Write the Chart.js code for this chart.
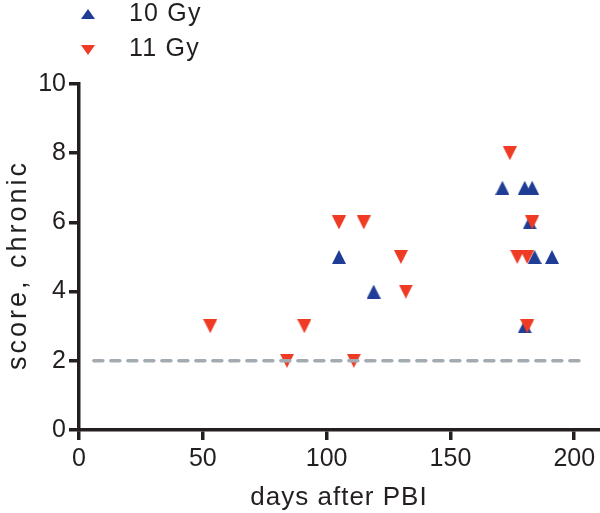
<!DOCTYPE html>
<html>
<head>
<meta charset="utf-8">
<script src="https://cdn.jsdelivr.net/npm/chart.js@4"></script>
<style>
  html, body { margin: 0; padding: 0; background: #fff; }
  #wrap { position: relative; width: 600px; height: 513px; overflow: hidden; }
  canvas { position: absolute; left: 0; top: 0; }
  .txt { position: absolute; font-family: "Liberation Sans", Arial, sans-serif; color: #231f20; white-space: nowrap; }
  .leg-text { font-size: 25px; line-height: 24px; letter-spacing: 1.2px; }
  .ytitle { left: -113px; top: 250px; width: 260px; height: 30px; line-height: 30px; font-size: 27px; letter-spacing: 3px; text-align: center; transform: rotate(-90deg); }
  .tri-up { position: absolute; width: 0; height: 0; border-left: 7px solid transparent; border-right: 7px solid transparent; border-bottom: 10px solid #1f3d94; }
  .tri-down { position: absolute; width: 0; height: 0; border-left: 7px solid transparent; border-right: 7px solid transparent; border-top: 10px solid #ef3b24; }
</style>
</head>
<body>
<div id="wrap">
  <canvas id="c" width="600" height="513"></canvas>
  <div class="tri-up" style="left:81px; top:9px;"></div>
  <div class="txt leg-text" style="left:129px; top:0px;">10 Gy</div>
  <div class="tri-down" style="left:81px; top:45px;"></div>
  <div class="txt leg-text" style="left:129px; top:35px;">11 Gy</div>
  <div class="txt ytitle">score, chronic</div>
</div>
<script>
// ---- data ----
const seriesNames = ["10 Gy", "11 Gy"];
const days10 = [105, 119, 171, 180, 183, 182, 184, 191, 180];
const score10 = [5, 4, 7, 7, 7, 6, 5, 5, 3];
const days11 = [53, 84, 91, 105, 111, 115, 130, 132, 174, 183, 177, 181, 181];
const score11 = [3, 2, 3, 6, 2, 6, 5, 4, 8, 6, 5, 5, 3];
const refDays = [6, 204];
const refScore = [2, 2];
const xTicks = [0, 50, 100, 150, 200];
const yTicks = [0, 2, 4, 6, 8, 10];

const BLUE = '#1f3d94';
const RED = '#ef3b24';
const INK = '#231f20';
const FONT = '"Liberation Sans", Arial, sans-serif';

function tri(color, up) {
  const c = document.createElement('canvas');
  c.width = 14; c.height = 14;
  const g = c.getContext('2d');
  g.fillStyle = color;
  g.beginPath();
  if (up) { g.moveTo(0, 14); g.lineTo(7, 0); g.lineTo(14, 14); }
  else { g.moveTo(0, 0); g.lineTo(14, 0); g.lineTo(7, 14); }
  g.closePath();
  g.fill();
  return c;
}

const toPts = (xs, ys) => xs.map((x, i) => ({ x: x, y: ys[i] }));

// letter spacing for the x axis title
const spacingPlugin = {
  id: 'titleSpacing',
  beforeDraw(chart) {
    const s = chart.scales.x;
    if (s && !s._spacedTitle) {
      const orig = s.drawTitle.bind(s);
      s.drawTitle = function () {
        const ctx = this.ctx;
        const prev = ctx.letterSpacing;
        ctx.letterSpacing = '1px';
        orig();
        ctx.letterSpacing = prev || '0px';
      };
      s._spacedTitle = true;
    }
  }
};

new Chart(document.getElementById('c'), {
  type: 'scatter',
  data: {
    datasets: [
      {
        label: 'ref',
        data: toPts(refDays, refScore),
        showLine: true,
        pointRadius: 0,
        pointHoverRadius: 0,
        borderColor: '#a2abb2',
        borderWidth: 3.5,
        borderDash: [9, 8],
        borderCapStyle: 'round',
        order: 0
      },
      {
        label: seriesNames[1],
        data: toPts(days11, score11),
        pointStyle: tri(RED, false),
        pointRadius: 7,
        pointHoverRadius: 7,
        backgroundColor: RED,
        borderColor: RED,
        order: 1
      },
      {
        label: seriesNames[0],
        data: toPts(days10, score10),
        pointStyle: tri(BLUE, true),
        pointRadius: 7,
        pointHoverRadius: 7,
        backgroundColor: BLUE,
        borderColor: BLUE,
        order: 2
      }
    ]
  },
  options: {
    responsive: false,
    animation: false,
    devicePixelRatio: 1,
    layout: { autoPadding: false, padding: { top: 84, right: 1, bottom: 0, left: 0 } },
    plugins: { legend: { display: false }, tooltip: { enabled: false } },
    scales: {
      x: {
        type: 'linear',
        min: 0,
        max: 210,
        afterBuildTicks: (s) => { s.ticks = xTicks.map(v => ({ value: v })); },
        afterFit: (s) => { s.height = 83; s.paddingLeft = 0; s.paddingRight = 0; },
        grid: { drawOnChartArea: false, drawTicks: true, tickLength: 10, color: INK, lineWidth: 3.5 },
        border: { display: true, color: INK, width: 3.5 },
        ticks: { color: INK, font: { family: FONT, size: 25 }, padding: 4, maxRotation: 0, z: 1 },
        title: { display: true, text: 'days after PBI', color: INK, font: { family: FONT, size: 26 }, padding: { top: 0, bottom: 0 } }
      },
      y: {
        type: 'linear',
        min: 0,
        max: 10,
        afterBuildTicks: (s) => { s.ticks = yTicks.map(v => ({ value: v })); },
        afterFit: (s) => { s.width = 79; },
        grid: { drawOnChartArea: false, drawTicks: true, tickLength: 10, color: INK, lineWidth: 3.5 },
        border: { display: true, color: INK, width: 3.5 },
        ticks: { color: INK, font: { family: FONT, size: 25 }, padding: 3, z: 1 },
        title: { display: false, text: 'score, chronic' }
      }
    }
  },
  plugins: [spacingPlugin]
});
</script>
</body>
</html>
